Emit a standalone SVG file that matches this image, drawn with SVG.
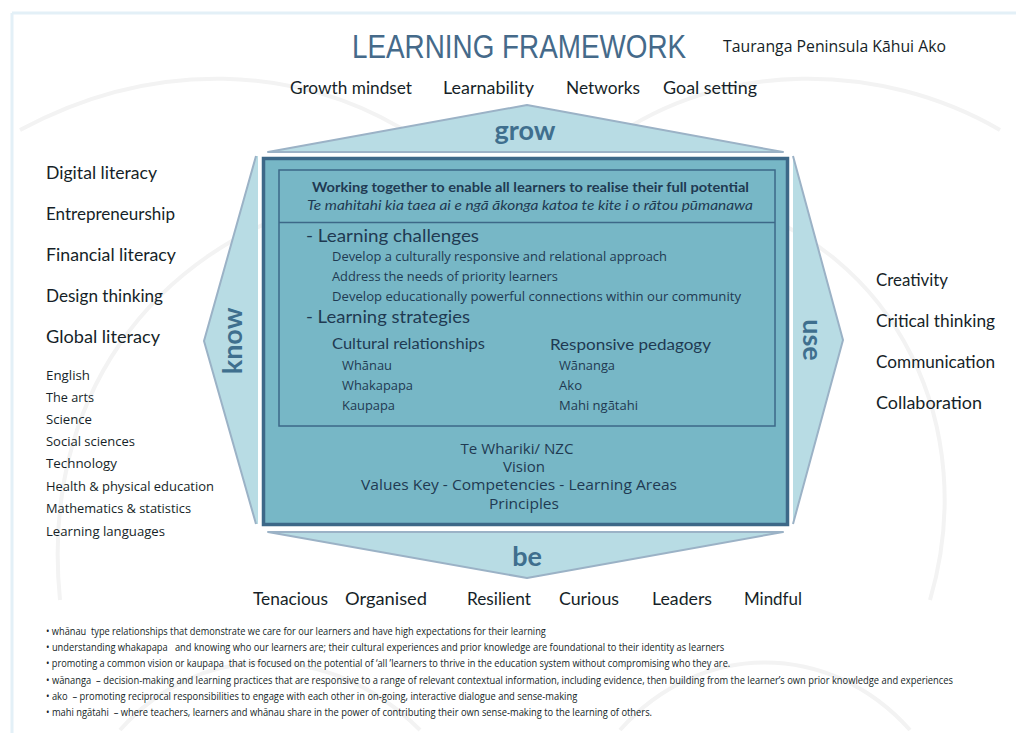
<svg xmlns="http://www.w3.org/2000/svg" width="1016" height="733" viewBox="0 0 1016 733">
<style>
.fut{font-family:Lato,"Liberation Sans",sans-serif;fill:#161f28}
.myr{font-family:"Open Sans","Liberation Sans",sans-serif;fill:#161f28}
.big{font-size:17px}
.sm{font-size:13.5px}
.lab{font-family:Lato,"Liberation Sans",sans-serif;font-weight:bold;fill:#3f6f8e;font-size:27px;text-anchor:middle}
.core{fill:#1f3a52}
.piece{fill:#b8dce4;stroke:#9bb2c6;stroke-width:2;stroke-linejoin:round}
.fn{font-family:"Open Sans","Liberation Sans",sans-serif;font-size:10.5px;fill:#161f28;white-space:pre}
.wm{fill:none;stroke:#f3f3f3;stroke-width:4}
</style>
<rect x="0" y="0" width="1016" height="733" fill="#ffffff"/>
<g id="watermark">
<path class="wm" d="M60 600 C 40 400, 150 250, 330 200"/>
<path class="wm" d="M20 130 C 150 60, 300 60, 420 140"/>
<path class="wm" d="M930 600 C 980 430, 900 250, 720 200"/>
<path class="wm" d="M1000 130 C 880 60, 720 60, 610 140"/>
<path class="wm" d="M120 730 C 200 640, 330 640, 420 730"/>
<path class="wm" d="M620 730 C 700 640, 830 640, 910 730"/>
</g>
<g id="frame">
<line x1="12" y1="13" x2="1016" y2="13" stroke="#e3f0f7" stroke-width="3"/>
<line x1="12" y1="13" x2="12" y2="733" stroke="#e3f0f7" stroke-width="3"/>
</g>
<g id="title">
<text transform="translate(352,58) scale(0.87,1)" x="0" y="0" font-family="'Liberation Sans',Arial,sans-serif" font-size="33" fill="#456a8a" textLength="384" lengthAdjust="spacingAndGlyphs">LEARNING FRAMEWORK</text>
<text x="723" y="52" class="myr" font-size="16.5" textLength="223" lengthAdjust="spacingAndGlyphs">Tauranga Peninsula Kāhui Ako</text>
</g>
<g id="grow-skills">
<text x="290" y="94" class="fut big" textLength="122" lengthAdjust="spacingAndGlyphs">Growth mindset</text>
<text x="443" y="94" class="fut big" textLength="91" lengthAdjust="spacingAndGlyphs">Learnability</text>
<text x="566" y="94" class="fut big" textLength="74" lengthAdjust="spacingAndGlyphs">Networks</text>
<text x="663" y="94" class="fut big" textLength="94" lengthAdjust="spacingAndGlyphs">Goal setting</text>
</g>
<g id="grow">
<polygon class="piece" points="268,152 527,105 783,152"/>
<text x="525" y="140" class="lab">grow</text>
</g>
<g id="know">
<path d="M256,156 L204,341 L256,524 L258,524 L258,156 Z" fill="#b8dce4"/>
<path d="M256,156 L204,341 L256,524" fill="none" stroke="#9bb2c6" stroke-width="2"/>
<text transform="translate(242,341) rotate(-90)" class="lab" x="0" y="0">know</text>
</g>
<g id="use">
<path d="M793,156 L843,340 L793,524 Z" fill="#b8dce4"/>
<path d="M793,156 L843,340 L793,524" fill="none" stroke="#9bb2c6" stroke-width="2"/>
<text transform="translate(803,340) rotate(90)" class="lab" x="0" y="0">use</text>
</g>
<g id="be">
<polygon class="piece" points="268,532 783,532 527,578"/>
<text x="527" y="566" class="lab">be</text>
</g>
<g id="core">
<rect x="263.5" y="158.5" width="524" height="366" fill="#77b7c6" stroke="#3d6888" stroke-width="3.5"/>
<rect x="279" y="170" width="496" height="256" fill="none" stroke="#3d6888" stroke-width="1.5"/>
<line x1="279" y1="222.5" x2="775" y2="222.5" stroke="#3d6888" stroke-width="1.5"/>
<text x="312" y="192" class="fut core" font-size="12.5" font-weight="bold" textLength="437" lengthAdjust="spacingAndGlyphs">Working together to enable all learners to realise their full potential</text>
<text x="307" y="210" class="fut core" font-size="12.5" font-style="italic" textLength="446" lengthAdjust="spacingAndGlyphs">Te mahitahi kia taea ai e ngā ākonga katoa te kite i o rātou pūmanawa</text>
<text x="306" y="242" class="fut core" font-size="18" textLength="173" lengthAdjust="spacingAndGlyphs">- Learning challenges</text>
<text x="332" y="261" class="myr core" font-size="13" textLength="335" lengthAdjust="spacingAndGlyphs">Develop a culturally responsive and relational approach</text>
<text x="332" y="281" class="myr core" font-size="13" textLength="226" lengthAdjust="spacingAndGlyphs">Address the needs of priority learners</text>
<text x="332" y="301" class="myr core" font-size="13" textLength="409" lengthAdjust="spacingAndGlyphs">Develop educationally powerful connections within our community</text>
<text x="306" y="323" class="fut core" font-size="18" textLength="164" lengthAdjust="spacingAndGlyphs">- Learning strategies</text>
<text x="332" y="349" class="fut core" font-size="15.5" textLength="153" lengthAdjust="spacingAndGlyphs">Cultural relationships</text>
<text x="550" y="350" class="fut core" font-size="15.5" textLength="161" lengthAdjust="spacingAndGlyphs">Responsive pedagogy</text>
<text x="342" y="370" class="myr core" font-size="13" textLength="50" lengthAdjust="spacingAndGlyphs">Whānau</text>
<text x="342" y="390" class="myr core" font-size="13" textLength="71" lengthAdjust="spacingAndGlyphs">Whakapapa</text>
<text x="342" y="410" class="myr core" font-size="13" textLength="53" lengthAdjust="spacingAndGlyphs">Kaupapa</text>
<text x="559" y="370" class="myr core" font-size="13" textLength="56" lengthAdjust="spacingAndGlyphs">Wānanga</text>
<text x="559" y="390" class="myr core" font-size="13" textLength="23" lengthAdjust="spacingAndGlyphs">Ako</text>
<text x="559" y="410" class="myr core" font-size="13" textLength="79" lengthAdjust="spacingAndGlyphs">Mahi ngātahi</text>
<text x="517" y="454" class="myr core" font-size="14.5" text-anchor="middle" textLength="113" lengthAdjust="spacingAndGlyphs">Te Whariki/ NZC</text>
<text x="524" y="472" class="myr core" font-size="14.5" text-anchor="middle" textLength="42" lengthAdjust="spacingAndGlyphs">Vision</text>
<text x="519" y="490" class="myr core" font-size="14.5" text-anchor="middle" textLength="316" lengthAdjust="spacingAndGlyphs">Values Key - Competencies - Learning Areas</text>
<text x="524" y="509" class="myr core" font-size="14.5" text-anchor="middle" textLength="70" lengthAdjust="spacingAndGlyphs">Principles</text>
</g>
<g id="know-list">
<text x="46" y="179" class="fut big" textLength="111" lengthAdjust="spacingAndGlyphs">Digital literacy</text>
<text x="46" y="220" class="fut big" textLength="129" lengthAdjust="spacingAndGlyphs">Entrepreneurship</text>
<text x="46" y="261" class="fut big" textLength="130" lengthAdjust="spacingAndGlyphs">Financial literacy</text>
<text x="46" y="302" class="fut big" textLength="117" lengthAdjust="spacingAndGlyphs">Design thinking</text>
<text x="46" y="343" class="fut big" textLength="114" lengthAdjust="spacingAndGlyphs">Global literacy</text>
<text x="46" y="380" class="myr sm" textLength="44" lengthAdjust="spacingAndGlyphs">English</text>
<text x="46" y="402" class="myr sm" textLength="48" lengthAdjust="spacingAndGlyphs">The arts</text>
<text x="46" y="424" class="myr sm" textLength="46" lengthAdjust="spacingAndGlyphs">Science</text>
<text x="46" y="446" class="myr sm" textLength="89" lengthAdjust="spacingAndGlyphs">Social sciences</text>
<text x="46" y="468" class="myr sm" textLength="71" lengthAdjust="spacingAndGlyphs">Technology</text>
<text x="46" y="491" class="myr sm" textLength="168" lengthAdjust="spacingAndGlyphs">Health &amp; physical education</text>
<text x="46" y="513" class="myr sm" textLength="145" lengthAdjust="spacingAndGlyphs">Mathematics &amp; statistics</text>
<text x="46" y="536" class="myr sm" textLength="119" lengthAdjust="spacingAndGlyphs">Learning languages</text>
</g>
<g id="use-list">
<text x="876" y="286" class="fut big" textLength="72" lengthAdjust="spacingAndGlyphs">Creativity</text>
<text x="876" y="327" class="fut big" textLength="119" lengthAdjust="spacingAndGlyphs">Critical thinking</text>
<text x="876" y="368" class="fut big" textLength="119" lengthAdjust="spacingAndGlyphs">Communication</text>
<text x="876" y="409" class="fut big" textLength="106" lengthAdjust="spacingAndGlyphs">Collaboration</text>
</g>
<g id="be-list">
<text x="253" y="605" class="fut big" textLength="75" lengthAdjust="spacingAndGlyphs">Tenacious</text>
<text x="345" y="605" class="fut big" textLength="82" lengthAdjust="spacingAndGlyphs">Organised</text>
<text x="467" y="605" class="fut big" textLength="64" lengthAdjust="spacingAndGlyphs">Resilient</text>
<text x="559" y="605" class="fut big" textLength="60" lengthAdjust="spacingAndGlyphs">Curious</text>
<text x="652" y="605" class="fut big" textLength="60" lengthAdjust="spacingAndGlyphs">Leaders</text>
<text x="744" y="605" class="fut big" textLength="58" lengthAdjust="spacingAndGlyphs">Mindful</text>
</g>
<g id="footnotes" transform="translate(46,0) scale(0.85,1)">
<text x="0" y="635" class="fn" textLength="588" lengthAdjust="spacingAndGlyphs">• whānau  type relationships that demonstrate we care for our learners and have high expectations for their learning</text>
<text x="0" y="651" class="fn" textLength="798" lengthAdjust="spacingAndGlyphs">• understanding whakapapa   and knowing who our learners are; their cultural experiences and prior knowledge are foundational to their identity as learners</text>
<text x="0" y="667" class="fn" textLength="805" lengthAdjust="spacingAndGlyphs">• promoting a common vision or kaupapa  that is focused on the potential of ‘all ’learners to thrive in the education system without compromising who they are.</text>
<text x="0" y="684" class="fn" textLength="1067" lengthAdjust="spacingAndGlyphs">• wānanga  – decision-making and learning practices that are responsive to a range of relevant contextual information, including evidence, then building from the learner’s own prior knowledge and experiences</text>
<text x="0" y="700" class="fn" textLength="625" lengthAdjust="spacingAndGlyphs">• ako  – promoting reciprocal responsibilities to engage with each other in on-going, interactive dialogue and sense-making</text>
<text x="0" y="716" class="fn" textLength="713" lengthAdjust="spacingAndGlyphs">• mahi ngātahi  – where teachers, learners and whānau share in the power of contributing their own sense-making to the learning of others.</text>
</g>
</svg>
